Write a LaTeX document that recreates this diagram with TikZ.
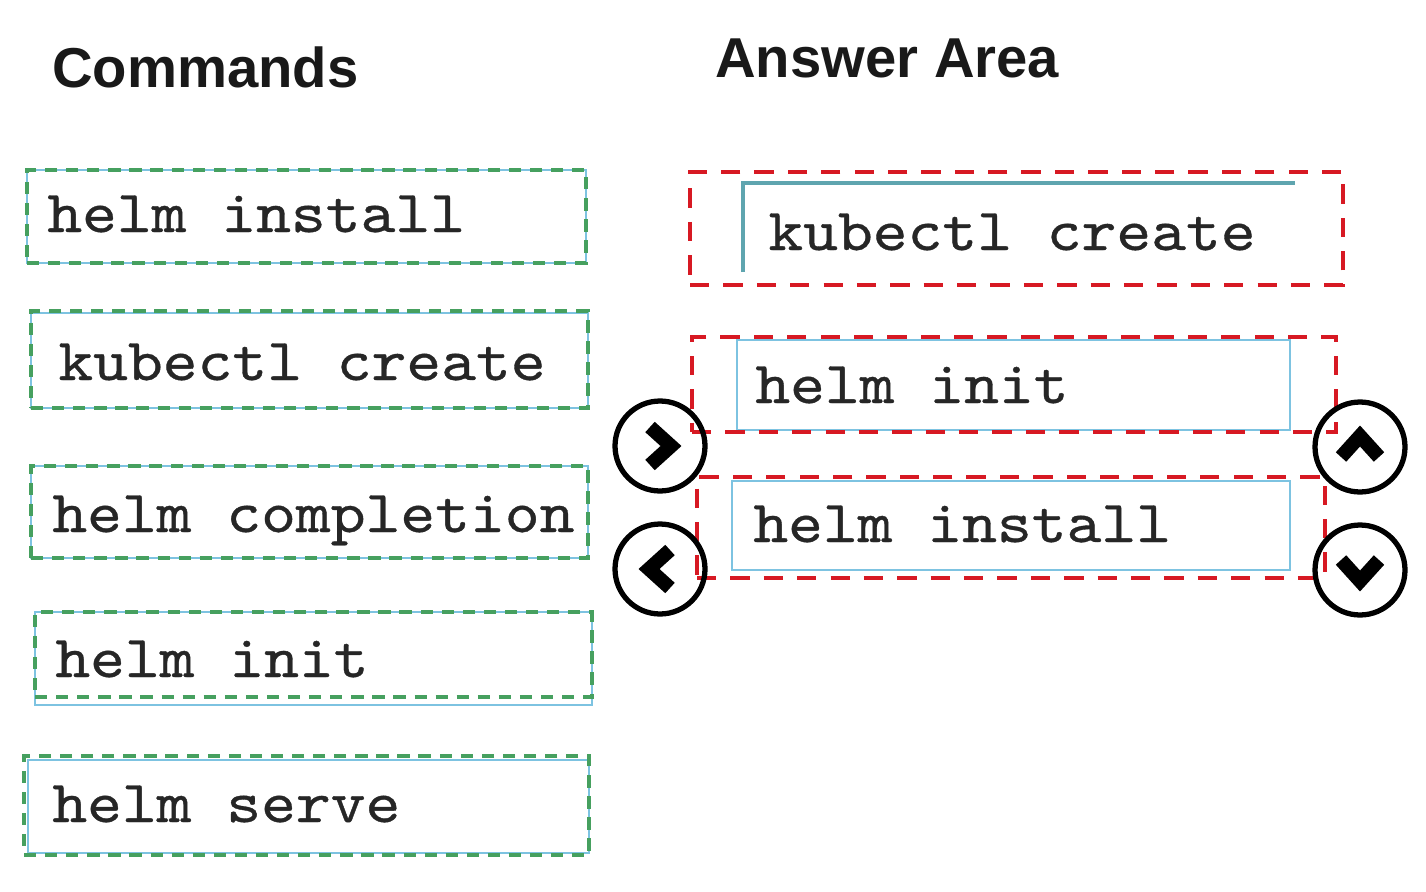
\documentclass[tikz,border=0pt]{standalone}
\usepackage{fontspec}
\setmainfont{Liberation Sans}
\newfontfamily\cmdfont{lmmono10-regular.otf}[FakeBold=0.6, FakeStretch=1.11]
\usetikzlibrary{fit}
\definecolor{boxblue}{RGB}{125,195,225}
\definecolor{boxgreen}{RGB}{70,160,95}
\definecolor{ansred}{RGB}{215,25,35}
\definecolor{tealline}{RGB}{95,165,175}
\tikzset{
  blbox/.style={draw=boxblue, line width=1.2pt, inner sep=0pt},
  grbox/.style={draw=boxgreen, line width=2.2pt, dash pattern=on 7pt off 5pt, inner sep=0pt},
  redbox/.style={draw=ansred, line width=2.2pt, dash pattern=on 11pt off 8pt, inner sep=0pt},
  cmd/.style={font=\cmdfont\fontsize{34}{40}\selectfont, anchor=base west, inner sep=0pt, text=black!85},
  title/.style={font=\bfseries\fontsize{32}{38}\selectfont, anchor=base west, inner sep=0pt, text=black!90},
  btn/.style={circle, draw=black, line width=3pt, minimum size=1.8cm, inner sep=0pt},
  chev/.style={draw=black, line width=8pt, line join=miter, line cap=butt}
}
\begin{document}
\begin{tikzpicture}[x=0.02cm,y=-0.02cm]
\useasboundingbox (0,0) rectangle (1426,892);
\fill[white] (0,0) rectangle (1426,892);

% titles
\node[title] (tcmd) at (52,88) {Commands};
\node[title] (tans) at (715,78) {Answer Area};

% left command boxes
\node[blbox, fit={(27,170)(586,263)}] (c1) {};
\node[grbox, fit={(27,170)(586,263)}] (g1) {};
\node[cmd] (t1) at (47,232) {helm install};

\node[blbox, fit={(31,313)(588,408)}] (c2) {};
\node[grbox, fit={(31,311)(588,408)}] (g2) {};
\node[cmd] (t2) at (58,380) {kubectl create};

\node[blbox, fit={(31,466)(588,558)}] (c3) {};
\node[grbox, fit={(31,466)(588,558)}] (g3) {};
\node[cmd] (t3) at (52,532) {helm completion};

\node[blbox, fit={(35,612)(592,705)}] (c4) {};
\node[grbox, fit={(35,612)(592,697)}] (g4) {};
\node[cmd] (t4) at (55,677) {helm init};

\node[blbox, fit={(28,760)(589,853)}] (c5) {};
\node[grbox, fit={(24,756)(589,855)}] (g5) {};
\node[cmd] (t5) at (52,822) {helm serve};

% answer area
\node[redbox, fit={(690,172)(1343,285)}] (r1) {};
\coordinate (i1a) at (743,272);
\coordinate (i1b) at (743,183);
\coordinate (i1c) at (1295,183);
\draw[tealline, line width=2pt] (i1a) -- (i1b) -- (i1c);
\node[cmd] (a1) at (768,250) {kubectl create};

\node[blbox, fit={(737,340)(1290,430)}] (b2) {};
\node[redbox, fit={(692,337)(1336,432)}] (r2) {};
\node[cmd] (a2) at (755,403) {helm init};

\node[blbox, fit={(732,481)(1290,570)}] (b3) {};
\node[redbox, fit={(697,477)(1325,578)}] (r3) {};
\node[cmd] (a3) at (753,542) {helm install};

% buttons
\node[btn] (bright) at (660,446) {};
\draw[chev] ([shift={(-10,-19)}]bright.center) -- ([shift={(11,0)}]bright.center) -- ([shift={(-10,19)}]bright.center);
\node[btn] (bleft) at (660,569) {};
\draw[chev] ([shift={(10,-19)}]bleft.center) -- ([shift={(-11,0)}]bleft.center) -- ([shift={(10,19)}]bleft.center);
\node[btn] (bup) at (1360,447) {};
\draw[chev] ([shift={(-19,10)}]bup.center) -- ([shift={(0,-11)}]bup.center) -- ([shift={(19,10)}]bup.center);
\node[btn] (bdown) at (1360,570) {};
\draw[chev] ([shift={(-19,-10)}]bdown.center) -- ([shift={(0,11)}]bdown.center) -- ([shift={(19,-10)}]bdown.center);
\end{tikzpicture}
\end{document}
